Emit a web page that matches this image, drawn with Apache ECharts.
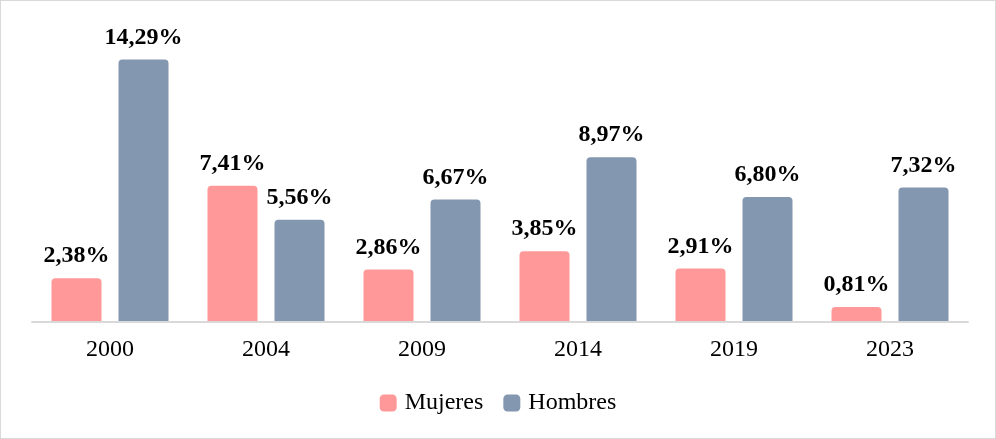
<!DOCTYPE html>
<html>
<head>
<meta charset="utf-8">
<script src="https://cdn.jsdelivr.net/npm/echarts@6/dist/echarts.min.js"></script>
<style>
  html, body { margin: 0; padding: 0; background: #fff; }
  #chart { width: 996px; height: 439px; box-sizing: border-box; border: 1px solid #d9d9d9; }
</style>
</head>
<body>
<div id="chart"></div>
<script>
// datos
var years = ['2000', '2004', '2009', '2014', '2019', '2023'];
var mujeres = [2.38, 7.41, 2.86, 3.85, 2.91, 0.81];
var hombres = [14.29, 5.56, 6.67, 8.97, 6.80, 7.32];

var chart = echarts.init(document.getElementById('chart'));
var serif = '"Liberation Serif", "Times New Roman", serif';

function pct(p) {
  return p.value.toFixed(2).replace('.', ',') + '%';
}

var labelStyle = {
  show: true,
  position: 'top',
  distance: 10,
  formatter: pct,
  fontFamily: serif,
  fontWeight: 'bold',
  fontSize: 24,
  color: '#000'
};

chart.setOption({
  animation: false,
  grid: { left: 31, right: 27, top: 27, bottom: 116 },
  legend: {
    bottom: 18,
    left: 'center',
    itemWidth: 17,
    itemHeight: 17,
    itemGap: 20,
    icon: 'roundRect',
    textStyle: { fontFamily: serif, fontSize: 24, color: '#000', padding: [0, 0, 0, 3] },
    data: ['Mujeres', 'Hombres']
  },
  xAxis: {
    type: 'category',
    data: years,
    axisLine: { lineStyle: { color: '#d9d9d9', width: 2 } },
    axisTick: { show: false },
    axisLabel: { fontFamily: serif, fontSize: 24, color: '#000', margin: 16 },
    z: 5
  },
  yAxis: {
    type: 'value',
    min: 0,
    max: 16,
    show: false,
    splitLine: { show: false }
  },
  series: [
    {
      name: 'Mujeres',
      type: 'bar',
      data: mujeres,
      barWidth: 50,
      barGap: '34%',
      itemStyle: { color: '#FF9999', borderRadius: [4, 4, 0, 0] },
      label: labelStyle
    },
    {
      name: 'Hombres',
      type: 'bar',
      data: hombres,
      barWidth: 50,
      itemStyle: { color: '#8497B0', borderRadius: [4, 4, 0, 0] },
      label: labelStyle
    }
  ]
});
</script>
</body>
</html>
